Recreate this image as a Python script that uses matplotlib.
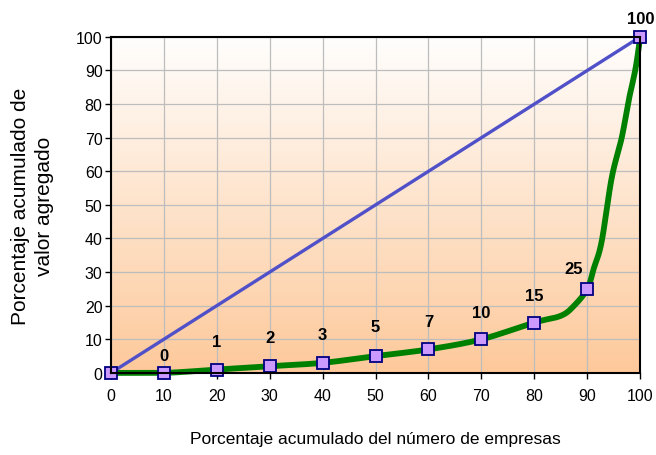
import numpy as np
import matplotlib
matplotlib.use('Agg')
import matplotlib.pyplot as plt
from matplotlib.colors import LinearSegmentedColormap

plt.rcParams['font.family'] = ['Liberation Sans', 'DejaVu Sans']

# deciles of firms (x) and accumulated value added (y)
deciles = [0, 10, 20, 30, 40, 50, 60, 70, 80, 90, 100]
equality = [0, 10, 20, 30, 40, 50, 60, 70, 80, 90, 100]
share = [0, 0, 1, 2, 3, 5, 7, 10, 15, 25, 100]
labels = ['', '0', '1', '2', '3', '5', '7', '10', '15', '25', '100']

# curve (more points near the top end)
curve_x = [0, 10, 20, 30, 40, 50, 60, 70, 80, 85, 87.5, 90, 91.2, 92.7, 94.6, 96.5, 97.8, 99.1, 100]
curve_y = [0, 0, 1, 2, 3, 5, 7, 10, 15, 17, 20, 25, 31, 39, 58, 70, 81, 90.5, 100]

# label offsets from the markers (points)
label_dx = [0, 0, 0, 0, 0, 0, 0, 0, 0, -10, 0]
label_dy = [0, 7, 15, 15, 15, 16, 15, 14, 14, 9, 8]


def smooth(xs, ys, n=20):
    # catmull-rom through the points, like excel's smoothed line
    p = np.column_stack([xs, ys]).astype(float)
    p = np.vstack([p[0], p, p[-1]])
    out = []
    t = np.linspace(0, 1, n, endpoint=False)[:, None]
    for i in range(1, len(p) - 2):
        p0, p1, p2, p3 = p[i - 1], p[i], p[i + 1], p[i + 2]
        seg = 0.5 * ((2 * p1) + (-p0 + p2) * t
                     + (2 * p0 - 5 * p1 + 4 * p2 - p3) * t ** 2
                     + (-p0 + 3 * p1 - 3 * p2 + p3) * t ** 3)
        out.append(seg)
    out.append(p[-2][None, :])
    out = np.vstack(out)
    return out[:, 0], out[:, 1]


fig = plt.figure(figsize=(6.56, 4.56), dpi=100)
ax = fig.add_axes([0.169, 0.180, 0.807, 0.737])

# background gradient white -> peach
cmap = LinearSegmentedColormap.from_list('bg', ['#fdc99b', '#fffefd'])
grad = np.linspace(0, 1, 256).reshape(-1, 1)
ax.imshow(grad, cmap=cmap, aspect='auto', extent=[0, 100, 0, 100],
          origin='lower', zorder=0)

ax.set_xlim(0, 100)
ax.set_ylim(0, 100)
ax.set_xticks(range(0, 101, 10))
ax.set_yticks(range(0, 101, 10))
ax.grid(True, color='#bdbdbd', linewidth=0.9, zorder=1)
ax.set_axisbelow(False)

ax.plot(deciles, equality, color='#5050c8', linewidth=2.4, zorder=3, clip_on=False)
sx, sy = smooth(curve_x, curve_y)
sy = np.clip(sy, 0, 100)
ax.plot(sx, sy, color='#008000', linewidth=4.2, zorder=4,
        solid_capstyle='round', solid_joinstyle='round', clip_on=False)
ax.plot(deciles, share, linestyle='none', marker='s', markersize=9,
        markerfacecolor='#cc99ff', markeredgecolor='#000080',
        markeredgewidth=1.3, zorder=5, clip_on=False)

for x, y, t, dx, dy in zip(deciles, share, labels, label_dx, label_dy):
    ax.annotate(t, (x, y), xytext=(dx, dy), textcoords='offset points',
                ha='center', va='bottom', fontsize=12, fontweight='bold',
                annotation_clip=False)

for s in ax.spines.values():
    s.set_color('black')
    s.set_linewidth(1.5)
    s.set_zorder(6)

ax.tick_params(axis='both', labelsize=11.5, length=4, width=1, direction='out')
ax.tick_params(axis='x', pad=7)
ax.tick_params(axis='y', pad=2)

ax.set_xlabel('Porcentaje acumulado del número de empresas', fontsize=12.5,
              labelpad=20)
ax.set_ylabel('Porcentaje acumulado de\nvalor agregado', fontsize=15,
              labelpad=16, linespacing=1.3)

plt.savefig('out.png', dpi=100)
